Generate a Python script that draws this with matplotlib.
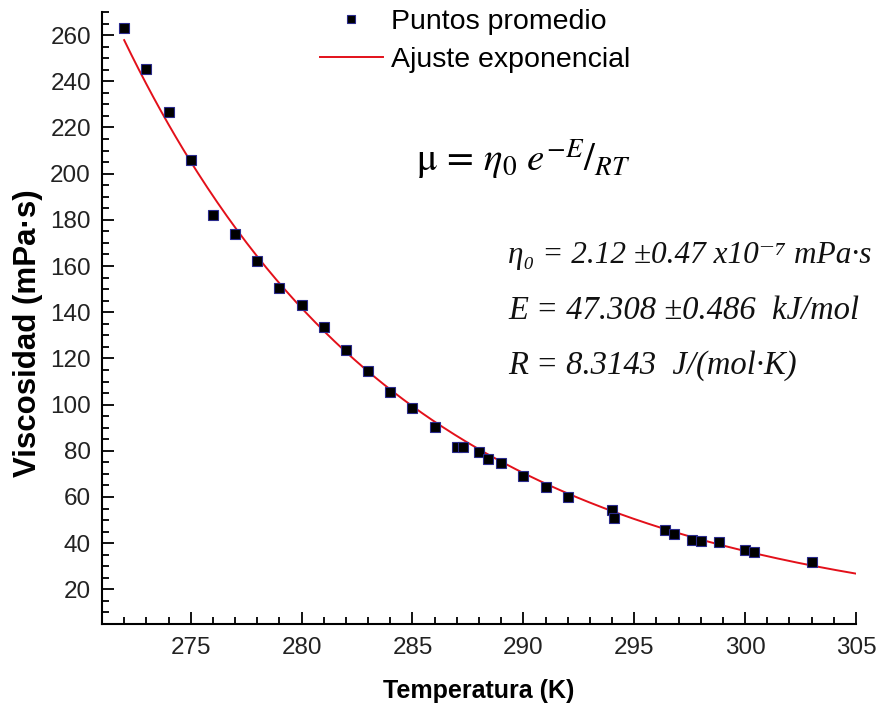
import numpy as np
import matplotlib
matplotlib.use("Agg")
import matplotlib.pyplot as plt
from matplotlib.ticker import MultipleLocator

# averaged points
temp_k = [272, 273, 274, 275, 276, 277, 278, 279, 280, 281, 282, 283, 284,
          285, 286, 287, 287.3, 288, 288.4, 289, 290, 291, 292, 294, 294.1,
          296.4, 296.8, 297.6, 298, 298.8, 300, 300.4, 303]
visc = [263, 245.5, 226.5, 206, 182, 174, 162, 150.5, 143, 133.5, 123.5,
        114.5, 105.5, 98.5, 90.5, 81.5, 81.5, 79.5, 76.5, 74.5, 69, 64.5,
        60, 54.5, 51, 45.5, 44, 41.5, 41, 40.5, 37, 36, 32]

# fit parameters shown on the chart
eta0 = 2.12e-7       # mPa.s
E_act = 47308.0      # J/mol
R_gas = 8.3143       # J/(mol.K)
fit_range = (272, 305)

plt.rcParams['font.family'] = ['Liberation Sans', 'DejaVu Sans']
plt.rcParams['mathtext.fontset'] = 'stix'

fig = plt.figure(figsize=(8.79, 7.06), dpi=100)
ax = fig.add_axes([102 / 879, 1 - 624 / 706, (856 - 102) / 879, (624 - 12) / 706])

t_fit = np.linspace(fit_range[0], fit_range[1], 300)
mu_fit = eta0 * np.exp(E_act / (R_gas * t_fit))

ax.plot(temp_k, visc, 's', ms=7.5, mfc='black', mec='#2a2a8c', mew=0.8,
        label='Puntos promedio', zorder=3)
ax.plot(t_fit, mu_fit, color='#e3101a', lw=1.4, label='Ajuste exponencial', zorder=2)

ax.set_xlim(271, 305)
ax.set_ylim(5, 270)
ax.xaxis.set_major_locator(MultipleLocator(5))
ax.xaxis.set_minor_locator(MultipleLocator(1))
ax.set_yticks(range(20, 261, 20))
ax.yaxis.set_minor_locator(MultipleLocator(5))

for s in ['top', 'right']:
    ax.spines[s].set_visible(False)
for s in ['left', 'bottom']:
    ax.spines[s].set_linewidth(1.5)

ax.tick_params(which='major', direction='in', length=8.5, width=1.3,
               labelsize=17.5, labelcolor='#222222')
ax.tick_params(which='minor', direction='in', length=5, width=1.3)
ax.tick_params(axis='y', which='major', pad=8)
ax.tick_params(axis='x', which='major', pad=9)

ax.set_xlabel('Temperatura (K)', fontsize=18, fontweight='bold', labelpad=15)
ax.set_ylabel('Viscosidad (mPa·s)', fontsize=22.5, fontweight='bold')
ax.yaxis.set_label_coords(-0.078, 0.475)

ax.legend(loc='upper left', bbox_to_anchor=(320 / 879, 1 - 9 / 706),
          bbox_transform=fig.transFigure, frameon=False, fontsize=20.5,
          borderpad=0, borderaxespad=0, handlelength=2.2, handletextpad=0.3,
          labelspacing=0.42, markerscale=0.8)

fig.text(416 / 879, 1 - 160 / 706, r'$\mathrm{\mu}\,=\,\eta_0\ e^{-E}{/}_{RT}$',
         fontsize=28, va='center', ha='left')

serif = ['Liberation Serif', 'DejaVu Serif']
params = ['η₀ = 2.12 ±0.47 x10⁻⁷ mPa·s',
          'E = 47.308 ±0.486  kJ/mol',
          'R = 8.3143  J/(mol·K)']
sizes = [22.5, 23.5, 23.5]
for i, line in enumerate(params):
    fig.text(508 / 879, 1 - (256 + 55 * i) / 706, line, family=serif,
             style='italic', fontsize=sizes[i], va='center', ha='left', color='#111111')

fig.savefig('out.png', dpi=100)
